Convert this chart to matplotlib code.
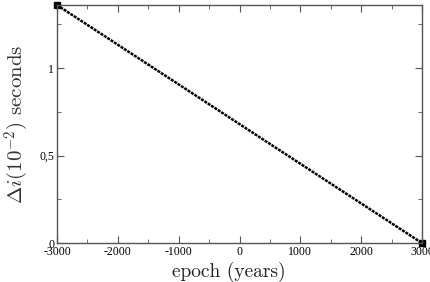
import matplotlib
matplotlib.use("Agg")
import matplotlib.pyplot as plt
from matplotlib.ticker import MultipleLocator, FixedLocator

plt.rcParams['mathtext.fontset'] = 'cm'

# data
epoch = [-3000, 3000]
delta_i = [1.36, 0.0]
xticks = [-3000, -2000, -1000, 0, 1000, 2000, 3000]
yticks = [0, 0.5, 1]
ytick_labels = ['0', '0,5', '1']

fig = plt.figure(figsize=(4.3, 2.82), dpi=100)
ax = fig.add_axes([0.1326, 0.138, 0.8488, 0.844])

ax.plot(epoch, delta_i, color='black', lw=1.8, ls=(0, (1.2, 0.4)))
ax.plot(epoch, delta_i, 's', color='black', ms=4, clip_on=False)

ax.set_xlim(-3000, 3000)
ax.set_ylim(0, 1.36)
ax.xaxis.set_major_locator(FixedLocator(xticks))
ax.xaxis.set_minor_locator(MultipleLocator(500))
ax.yaxis.set_major_locator(FixedLocator(yticks))
ax.yaxis.set_minor_locator(MultipleLocator(0.25))
ax.set_xticklabels([str(t) for t in xticks], family='Liberation Serif', fontsize=8.5)
ax.set_yticklabels(ytick_labels, family='Liberation Serif', fontsize=8.5)

for s in ax.spines.values():
    s.set_color('#555555')
    s.set_linewidth(1.0)
ax.tick_params(which='both', direction='in', top=True, right=True, color='#555555', pad=2)
ax.tick_params(which='major', length=5)
ax.tick_params(which='minor', length=3)

ax.set_xlabel('epoch (years)', family='cmr10', fontsize=14, color='#222222')
ax.xaxis.set_label_coords(0.47, -0.08)
ax.set_ylabel(r'$\Delta i(10^{-2})$ seconds', fontsize=15, labelpad=6, color='#333333')
ax.yaxis.label.set_family('cmr10')

fig.savefig('out.png', dpi=100)
